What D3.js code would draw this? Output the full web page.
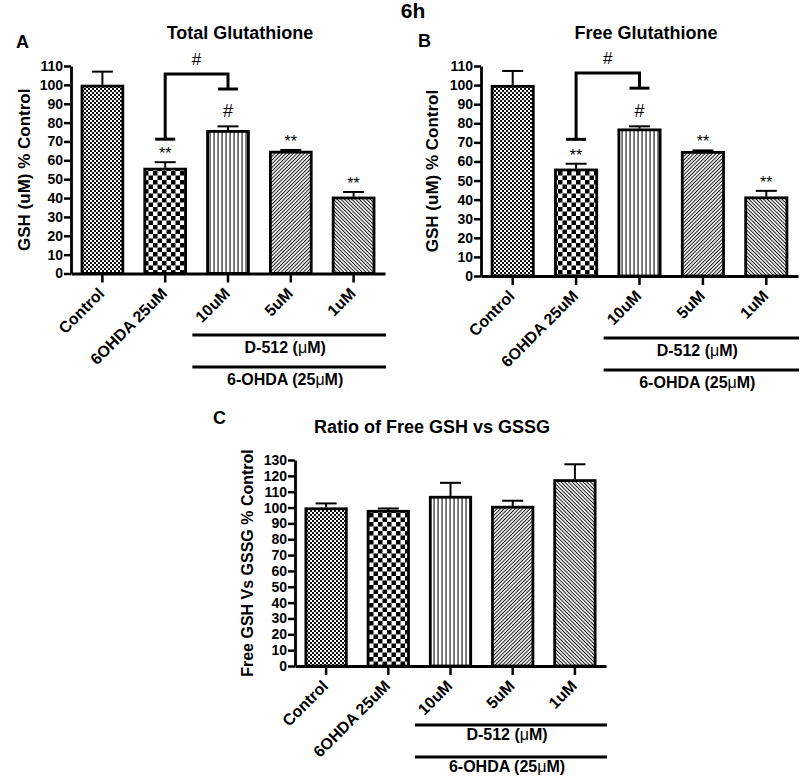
<!DOCTYPE html>
<html><head><meta charset="utf-8">
<script src="https://cdn.jsdelivr.net/npm/d3@7"></script>
<style>
body{margin:0;background:#fff;}
text{font-family:Arial,"Liberation Sans",Helvetica,sans-serif;}
</style></head>
<body><svg id="c" width="800" height="776"></svg>
<script>
// ---- data ----
const categories = ["Control", "6OHDA 25uM", "10uM", "5uM", "1uM"];
const patterns = ["pCtrl", "pChk", "pVert", "pFwd", "pBack"];
const totalGSH = [100, 56, 76, 65, 40.7];
const totalErr = [7, 3, 2, 0.5, 2.5];
const freeGSH = [100, 56.2, 77.2, 65.4, 41.6];
const freeErr = [7.4, 2.6, 1.2, 0.4, 3];
const ratioGSH = [100, 98.4, 107.3, 101, 117.8];
const ratioErr = [2.6, 1, 8.3, 3.3, 9.5];
const sigA = ["", "**", "#", "**", "**"];
const sigB = ["", "**", "#", "**", "**"];
const sigC = ["", "", "", "", ""];
const bracketA = {from: 1, to: 2, top: 105.7, left: 71.2, right: 97.8, mark: "#"};
const bracketB = {from: 1, to: 2, top: 106.3, left: 71.6, right: 98.4, mark: "#"};
const yTicksAB = [0, 10, 20, 30, 40, 50, 60, 70, 80, 90, 100, 110];
const yTicksC = [0, 10, 20, 30, 40, 50, 60, 70, 80, 90, 100, 110, 120, 130];
const groupLabels = ["D-512 (", "6-OHDA (25"];

const svg = d3.select("#c");
const defs = svg.append("defs");
// patterns
function pat(id, w, h, tr) {
  const p = defs.append("pattern").attr("id", id).attr("patternUnits", "userSpaceOnUse")
    .attr("width", w).attr("height", h);
  if (tr) p.attr("patternTransform", tr);
  p.append("rect").attr("width", w).attr("height", h).attr("fill", "#fff");
  return p;
}
let p = pat("pCtrl", 4, 4);
p.append("rect").attr("width", 2).attr("height", 2).attr("fill", "#111");
p.append("rect").attr("x", 2).attr("y", 2).attr("width", 2).attr("height", 2).attr("fill", "#111");
p = pat("pChk", 9, 9);
p.append("rect").attr("width", 4.5).attr("height", 4.5).attr("fill", "#000");
p.append("rect").attr("x", 4.5).attr("y", 4.5).attr("width", 4.5).attr("height", 4.5).attr("fill", "#000");
p = pat("pVert", 4, 4);
p.append("rect").attr("x", 1.5).attr("width", 1.1).attr("height", 4).attr("fill", "#111");
p = pat("pFwd", 2.6, 2.6, "rotate(45)");
p.append("rect").attr("x", 0.8).attr("width", 1).attr("height", 2.6).attr("fill", "#111");
p = pat("pBack", 2.6, 2.6, "rotate(-45)");
p.append("rect").attr("x", 0.8).attr("width", 1).attr("height", 2.6).attr("fill", "#111");

svg.append("text").attr("x", 413).attr("y", 18).attr("text-anchor", "middle")
  .attr("font-size", 21).attr("font-weight", "bold").text("6h");

const panels = [
  {letter: "A", lx: 16, ly: 48, title: "Total Glutathione", tx: 240, ty: 39,
   vals: totalGSH, errs: totalErr, sig: sigA, bracket: bracketA, ticks: yTicksAB, ymax: 110,
   x0: 71, x1: 385, yb: 273.5, yt: 66, ylab: "GSH (uM) % Control", ylx: 24, ylfs: 17, gl: [61.5, 93.5], gt: 17.5},
  {letter: "B", lx: 418, ly: 47, title: "Free Glutathione", tx: 646, ty: 39,
   vals: freeGSH, errs: freeErr, sig: sigB, bracket: bracketB, ticks: yTicksAB, ymax: 110,
   x0: 481, x1: 798, yb: 276, yt: 66, ylab: "GSH (uM) % Control", ylx: 432, ylfs: 17, gl: [62, 94], gt: 17.5},
  {letter: "C", lx: 213, ly: 424, title: "Ratio of Free GSH vs GSSG", tx: 432, ty: 433,
   vals: ratioGSH, errs: ratioErr, sig: sigC, bracket: null, ticks: yTicksC, ymax: 130,
   x0: 295, x1: 606, yb: 666, yt: 460, ylab: "Free GSH Vs GSSG % Control", ylx: 247, ylfs: 16, gl: [59, 91], gt: 15}
];

panels.forEach(P => {
  const g = svg.append("g");
  const x = d3.scaleBand().domain(categories).range([P.x0, P.x1]).paddingInner(0.31).paddingOuter(0.155);
  const y = d3.scaleLinear().domain([0, P.ymax]).range([P.yb, P.yt]);
  const data = categories.map((c, i) => ({c, v: P.vals[i], e: P.errs[i], s: P.sig[i], p: patterns[i]}));

  g.append("text").attr("x", P.lx).attr("y", P.ly).attr("font-size", 18).attr("font-weight", "bold").text(P.letter);
  g.append("text").attr("x", P.tx).attr("y", P.ty).attr("text-anchor", "middle")
    .attr("font-size", 18).attr("font-weight", "bold").text(P.title);

  // error bars
  const eg = g.append("g").attr("stroke", "#000").attr("stroke-width", 2);
  data.forEach(d => {
    const cx = x(d.c) + x.bandwidth() / 2;
    eg.append("line").attr("x1", cx).attr("x2", cx).attr("y1", y(d.v)).attr("y2", y(d.v + d.e));
    eg.append("line").attr("x1", cx - 10.5).attr("x2", cx + 10.5).attr("y1", y(d.v + d.e)).attr("y2", y(d.v + d.e));
  });
  // bars
  g.selectAll("rect.bar").data(data).join("rect").attr("class", "bar")
    .attr("x", d => x(d.c) + 1.25).attr("width", x.bandwidth() - 2.5)
    .attr("y", d => y(d.v) + 1.25).attr("height", d => y(0) - y(d.v) - 1.25)
    .attr("fill", d => `url(#${d.p})`).attr("stroke", "#000").attr("stroke-width", 2.8);

  // significance
  data.forEach(d => {
    if (!d.s) return;
    const cx = x(d.c) + x.bandwidth() / 2;
    const t = g.append("text").attr("x", cx).attr("text-anchor", "middle").attr("fill", "#000").text(d.s);
    if (d.s === "#") t.attr("y", y(d.v + d.e) - 9).attr("font-size", 18);
    else t.attr("y", y(d.v + d.e) - 3).attr("font-size", 16);
  });

  // bracket
  if (P.bracket) {
    const b = P.bracket;
    const xa = x(categories[b.from]) + x.bandwidth() / 2;
    const xb = x(categories[b.to]) + x.bandwidth() / 2;
    const bg = g.append("g").attr("stroke", "#000").attr("stroke-width", 3).attr("fill", "none");
    bg.append("path").attr("d", `M${xa},${y(b.left)}V${y(b.top)}H${xb}V${y(b.right)}`);
    bg.append("line").attr("x1", xa - 10).attr("x2", xa + 10).attr("y1", y(b.left)).attr("y2", y(b.left));
    bg.append("line").attr("x1", xb - 10).attr("x2", xb + 10).attr("y1", y(b.right)).attr("y2", y(b.right));
    g.append("text").attr("x", (xa + xb) / 2).attr("y", y(b.top) - 9).attr("text-anchor", "middle")
      .attr("font-size", 17).text(b.mark);
  }

  // y axis
  const ya = g.append("g").attr("transform", `translate(${P.x0},0)`)
    .call(d3.axisLeft(y).tickValues(P.ticks).tickSize(7).tickPadding(1).tickSizeOuter(0));
  ya.select(".domain").attr("stroke-width", 2.8);
  ya.selectAll(".tick line").attr("stroke-width", 2.5);
  ya.selectAll(".tick text").attr("font-size", 14).attr("font-weight", "bold").attr("fill", "#000")
    .attr("font-family", "Arial, 'Liberation Sans', sans-serif");
  // x axis
  const xa = g.append("g").attr("transform", `translate(0,${P.yb})`)
    .call(d3.axisBottom(x).tickSize(9).tickSizeOuter(0));
  xa.select(".domain").attr("stroke-width", 2.8);
  xa.selectAll(".tick line").attr("stroke-width", 2.5);
  xa.selectAll(".tick text").attr("font-size", 16).attr("font-weight", "bold").attr("fill", "#000")
    .attr("font-family", "Arial, 'Liberation Sans', sans-serif")
    .attr("text-anchor", "end").attr("dy", null).attr("y", 0)
    .attr("transform", "translate(3,21) rotate(-45)");

  // y label
  g.append("text").attr("transform", `translate(${P.ylx},${(P.yb + P.yt) / 2}) rotate(-90)`)
    .attr("dy", "0.35em").attr("text-anchor", "middle").attr("font-size", P.ylfs).attr("font-weight", "bold")
    .text(P.ylab);

  // group lines
  const gs = x(categories[2]) - 14, ge = P.x1 + 1;
  P.gl.forEach((off, i) => {
    const ly = P.yb + off;
    g.append("line").attr("x1", gs).attr("x2", ge).attr("y1", ly).attr("y2", ly)
      .attr("stroke", "#000").attr("stroke-width", 3);
    const t = g.append("text").attr("x", (gs + ge) / 2 - 4).attr("y", ly + P.gt).attr("text-anchor", "middle")
      .attr("font-size", 16).attr("font-weight", "bold");
    t.append("tspan").text(groupLabels[i]);
    t.append("tspan").attr("font-weight", "normal").text("\u03bc");
    t.append("tspan").text("M)");
  });
});
</script></body></html>
